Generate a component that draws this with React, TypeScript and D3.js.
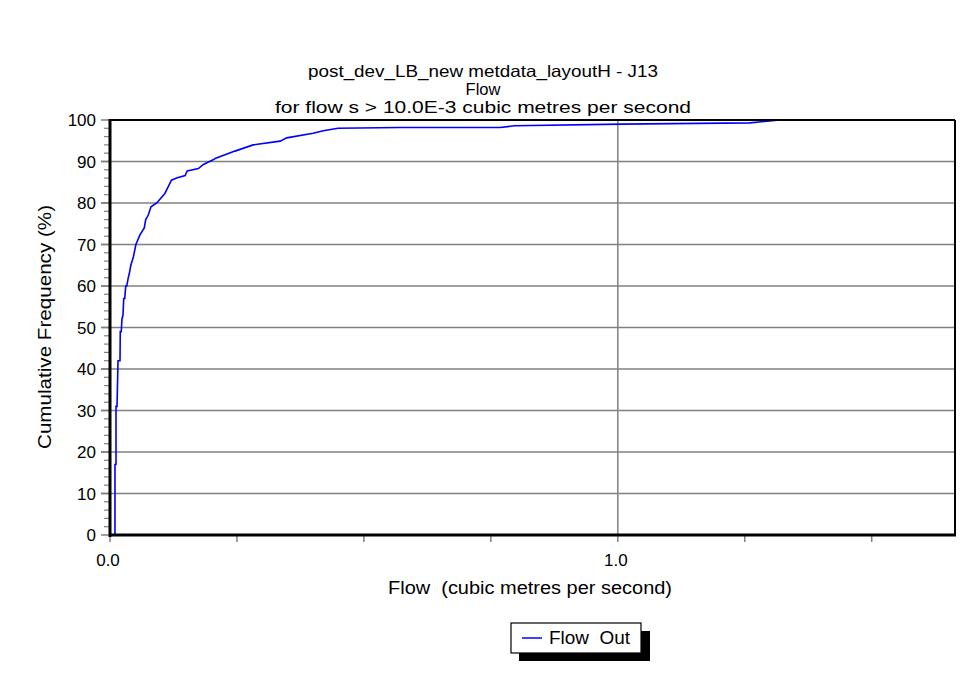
import React from "react";
import * as d3 from "d3";

const flowValues = [0.0098, 0.0098, 0.0118, 0.0118, 0.0138, 0.0158, 0.0197, 0.0202, 0.0222, 0.0235, 0.0256, 0.027, 0.029, 0.031, 0.033, 0.036, 0.038, 0.041, 0.046, 0.051, 0.059, 0.0675, 0.0703, 0.0754, 0.0807, 0.092, 0.108, 0.115, 0.121, 0.131, 0.148, 0.152, 0.174, 0.184, 0.203, 0.207, 0.246, 0.282, 0.335, 0.348, 0.4, 0.42, 0.449, 0.571, 0.768, 0.797, 1.008, 1.26, 1.319];
const freqValues = [0, 17, 17, 31, 31, 42, 42, 49, 49, 52, 53, 57, 57, 60, 60, 62, 63, 65, 67, 70, 72.3, 74, 76, 77.1, 79.1, 80, 82.3, 84, 85.5, 86, 86.6, 87.7, 88.3, 89.3, 90.4, 90.7, 92.5, 94, 94.9, 95.7, 96.8, 97.4, 98, 98.2, 98.2, 98.6, 99, 99.3, 100];

const yTicks = [0, 10, 20, 30, 40, 50, 60, 70, 80, 90, 100];
const xMinorTicks = [0, 0.25, 0.5, 0.75, 1.0, 1.25, 1.5];
const xLabelTicks = [0, 1.0];
const xGridTicks = [1.0];

const titleLines = [
  "post_dev_LB_new metdata_layoutH - J13",
  "Flow",
  "for flow s > 10.0E-3 cubic metres per second",
];
const titleWidths = [350, 0, 416];

export default function App() {
  const W = 979, H = 687;
  const left = 110, right = 955, top = 120, bottom = 535;
  const x = d3.scaleLinear().domain([0, 1.664]).range([left, right]);
  const y = d3.scaleLinear().domain([0, 100]).range([bottom, top]);
  const pts: [number, number][] = flowValues.map((f, i) => [f, freqValues[i]]);
  const line = d3.line<[number, number]>().x((d) => x(d[0])).y((d) => y(d[1]));
  const yMinor = d3.range(0, 101, 2).filter((v) => v % 10 !== 0);
  const font = "'Liberation Sans', Arial, sans-serif";
  return (
    <svg width={W} height={H} style={{ position: "absolute", left: 0, top: 0 }} fontFamily={font}>
      <rect width={W} height={H} fill="#fff" />
      {titleLines.map((t, i) => (
        <text key={i} x={483} y={77 + i * 18} textAnchor="middle" fontSize={16.5} fill="#000"
          {...(titleWidths[i] ? { textLength: titleWidths[i], lengthAdjust: "spacingAndGlyphs" } : {})}
          style={{ whiteSpace: "pre" }}>{t}</text>
      ))}
      {/* gridlines */}
      {yTicks.filter((v) => v > 0 && v < 100).map((v) => (
        <line key={v} x1={left - 9} x2={right} y1={y(v)} y2={y(v)} stroke="#808080" strokeWidth={1.5} />
      ))}
      {xGridTicks.map((v) => (
        <line key={v} x1={x(v)} x2={x(v)} y1={top} y2={bottom} stroke="#808080" strokeWidth={1.5} />
      ))}
      {/* y ticks */}
      {yTicks.map((v) => (
        <line key={"t" + v} x1={left - 9} x2={left} y1={y(v)} y2={y(v)} stroke="#808080" strokeWidth={1.5} />
      ))}
      {yMinor.map((v) => (
        <line key={"m" + v} x1={left - 6} x2={left} y1={y(v)} y2={y(v)} stroke="#808080" strokeWidth={1.2} />
      ))}
      {yTicks.map((v) => (
        <text key={"l" + v} x={left - 14} y={y(v) + 6} textAnchor="end" fontSize={17} fill="#000">{v}</text>
      ))}
      {/* x ticks */}
      {xMinorTicks.map((v) => (
        <line key={"x" + v} x1={x(v)} x2={x(v)} y1={bottom} y2={bottom + 7} stroke="#808080" strokeWidth={1.5} />
      ))}
      {xLabelTicks.map((v) => (
        <text key={"xl" + v} x={x(v) - 2} y={566} textAnchor="middle" fontSize={17} fill="#000">{v.toFixed(1)}</text>
      ))}
      {/* curve */}
      <path d={line(pts) || ""} fill="none" stroke="#0000ff" strokeWidth={1.6} />
      {/* frame */}
      <line x1={left} x2={right} y1={top} y2={top} stroke="#000" strokeWidth={2} />
      <line x1={right} x2={right} y1={top} y2={bottom} stroke="#000" strokeWidth={2} />
      <line x1={left} x2={left} y1={top - 1} y2={bottom + 2} stroke="#000" strokeWidth={3} />
      <line x1={left - 1} x2={right + 1} y1={bottom} y2={bottom} stroke="#000" strokeWidth={3} />
      {/* axis titles */}
      <text x={530} y={594} textAnchor="middle" fontSize={18} fill="#000" textLength={284}
        lengthAdjust="spacingAndGlyphs" style={{ whiteSpace: "pre" }}>Flow  (cubic metres per second)</text>
      <text transform={`translate(51,${327}) rotate(-90)`} textAnchor="middle" fontSize={18} fill="#000"
        textLength={244} lengthAdjust="spacingAndGlyphs">Cumulative Frequency (%)</text>
      {/* legend */}
      <rect x={519} y={631} width={131} height={30} fill="#000" />
      <rect x={511} y={623} width={130} height={30} fill="#fff" stroke="#000" strokeWidth={1.2} />
      <line x1={522} x2={542} y1={638} y2={638} stroke="#0000ff" strokeWidth={1.5} />
      <text x={549} y={644} fontSize={18} fill="#000" textLength={81} lengthAdjust="spacingAndGlyphs"
        style={{ whiteSpace: "pre" }}>Flow  Out</text>
    </svg>
  );
}
